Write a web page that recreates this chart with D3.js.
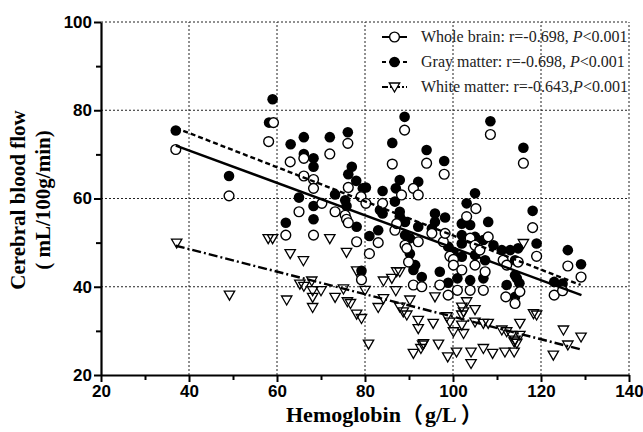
<!DOCTYPE html>
<html>
<head>
<meta charset="utf-8">
<script src="https://cdn.jsdelivr.net/npm/d3@7.9.0/dist/d3.min.js"></script>
<style>
  body { margin: 0; background: #fff; }
  .tick text { font-family: "Liberation Sans", Arial, sans-serif; font-weight: bold; font-size: 17px; fill: #000; }
  .title { font-family: "Liberation Serif", "Times New Roman", serif; font-weight: bold; font-size: 21px; fill: #000; }
  .cjk { font-family: "Noto Sans CJK SC", sans-serif; font-weight: bold; }
  .legend text { font-family: "Liberation Serif", "Times New Roman", serif; font-size: 16px; fill: #222; }
</style>
</head>
<body>
<svg id="chart" width="643" height="432"></svg>
<script>
// [hemoglobin g/L, CBF mL/100g/min]
const wholeBrain = [
  [37,71.1],[49.1,60.6],[58.1,72.9],[59.2,77.2],[62,51.7],[63,68.3],[65,57],[66.1,69.1],[66.1,65.1],
  [68.3,64.3],[68.3,62.3],[68.3,51.7],[70.2,58.9],[72,70.1],[73.2,57],[75.5,56.2],[75.8,55.3],[76.2,54.5],
  [76.1,72.5],[76.2,62.5],[78.1,50.2],[79.1,60.4],[79.2,41.6],[80.2,58.9],[81,47.5],[83,50],[84,58.9],
  [86.2,67.8],[86.8,52.8],[87.2,54.3],[88.3,60.8],[89.1,49.4],[89.5,48.7],[89.9,45.6],[91,62.3],[91,40.4],
  [92.1,60.8],[92.1,50.2],[92.9,40],[95.2,52.1],[97,40.4],[97.8,50.2],[98.2,52.1],[98.9,38.1],[99.3,46.9],
  [100.1,46.2],[100.1,44.9],[101,39.2],[102,43.8],[103.1,55.9],[103.9,51],[103.9,39.2],[105,49.4],[105,44.9],
  [105.2,57.7],[106.1,48.3],[106.9,39.2],[107.3,43.4],[108,51.3],[111.4,46],[112,37.7],[112.2,44.9],
  [114.1,36.2],[114.8,45.6],[115.2,38.9],[118.1,53.4],[119,46.9],[123,38.1],[124.9,39.1],[126.1,44.7],
  [129.1,42.2],
  [89,75.5],[94,68],[98,65.5],[108.5,74.5],[116,68]
];
const grayMatter = [
  [37,75.4],[49.1,65.1],[58.2,77.2],[59,82.5],[62,54.5],[63.1,72.3],[65,60.2],[66.1,73.9],[66.1,70.1],
  [68.3,69.1],[68.3,67.2],[68.3,58.3],[68.3,55.3],[72,73.9],[73.2,60.9],[75.5,59.6],[75.8,58.3],[76.1,75],
  [76.2,65.5],[77,67.2],[78,64],[78.1,53.6],[79.2,43.6],[79.5,62.3],[80.2,62.5],[81,51.5],[83,52.8],
  [83.4,57.4],[84,61.7],[84,56.6],[86.2,72.6],[86.8,59.3],[87,62.3],[87.9,64.2],[87.9,57],[87.9,55.9],
  [89.1,54.7],[89.1,51.7],[90.2,51],[90.2,47.5],[91,43.8],[91.4,44.9],[92.1,63.8],[92.1,53.6],[92.9,42.2],
  [95.2,53.2],[95.9,56.6],[95.9,54.7],[97,43.4],[98.2,55.7],[98.9,49.1],[98.9,40.9],[100.1,47.9],[101,41.9],
  [102,54.3],[102,51.7],[102,49.8],[102,46.8],[103.1,58.9],[103.9,54],[103.9,41.5],[105,61.2],[105,51.3],
  [105,47.2],[106.9,50.6],[106.9,41.9],[107.3,46],[108,54.7],[109.2,49.4],[111.1,48.3],[112.2,40.4],[113,48.3],
  [114.1,46],[114.1,42.6],[114.1,37.7],[114.5,41.9],[114.8,48.7],[115.1,40.8],[118.1,57.2],[119,49.8],
  [123,41.1],[124.9,40.7],[126.1,48.3],[129.1,45.1],
  [89,78.5],[94,71],[98,68.5],[108.5,77.5],[116,71.5]
];
const whiteMatter = [
  [37.2,49.9],[49.2,38.1],[58,50.9],[59,50.9],[62.2,37],[63,47.5],[65.2,40.6],[66,45.9],[66.1,40.1],
  [67.9,41.3],[68.1,39.1],[68.1,37.6],[68.1,35.3],[70,39.1],[72,50.9],[73.2,37.6],[75.1,39.5],[75.8,47.8],
  [76,36.6],[76.7,36.2],[78.1,43.6],[78.1,33.8],[79.2,32.8],[80,39.2],[80.8,27],[83,35.3],[84.2,41.3],
  [84.2,37.3],[86.1,41.9],[87,39.1],[87.2,43.4],[87.9,43.4],[87.9,35.4],[88.7,34.3],[89.5,33.6],[90.2,37],
  [91,24.9],[92.1,32.4],[92.1,30.5],[92.7,26],[93.1,26.8],[93.3,27.1],[95.5,31.7],[95.9,37.7],[96.7,27],
  [98.6,33.2],[98.8,24.1],[99.3,32],[100.1,29.8],[100.8,25.2],[102,35.4],[102,33.6],[102,31.3],[102.4,34.3],
  [102.4,29.4],[103.1,36.6],[104.1,25.2],[104.1,22.6],[105,34.8],[105,32],[106.9,31.7],[106.9,26],[108,31.7],
  [109,24.9],[111.1,30.2],[111.8,25.2],[112.2,29.8],[113.3,29],[113.9,25.2],[113.9,27.5],[114.1,27.9],
  [114.5,27.2],[115.2,29],[115.2,31.7],[116,49.8],[118.3,33.9],[119,33.6],[122.8,24.5],[125.1,30.2],
  [126.1,26.8],[129.1,28.6]
];

// fitted lines: [x0, y0], [x1, y1]
const wholeFit = [[37, 72.0], [129.2, 38.1]];
const grayFit  = [[37, 76.0], [129, 40.4]];
const whiteFit = [[37, 49.3], [129, 25.8]];

const xTicks = [20, 40, 60, 80, 100, 120, 140];
const xMinor = [30, 50, 70, 90, 110, 130];
const yTicks = [20, 40, 60, 80, 100];
const yMinor = [30, 50, 70, 90];

const legendLabels = [
  ['Whole brain: r=-0.698, ', '<0.001'],
  ['Gray matter: r=-0.698, ', '<0.001'],
  ['White matter: r=-0.643,', '<0.001']
];

const svg = d3.select('#chart');
const x = d3.scaleLinear().domain([20, 140]).range([101, 629]);
const y = d3.scaleLinear().domain([20, 100]).range([375, 22]);

// dotted grid
svg.append('g')
  .selectAll('line')
  .data(xTicks.slice(1))
  .join('line')
  .attr('x1', d => x(d)).attr('x2', d => x(d))
  .attr('y1', y(20)).attr('y2', y(100))
  .attr('stroke', '#222').attr('stroke-width', 1).attr('stroke-dasharray', '2,2');
svg.append('g')
  .selectAll('line')
  .data(yTicks.slice(1))
  .join('line')
  .attr('x1', x(20)).attr('x2', x(140))
  .attr('y1', d => y(d)).attr('y2', d => y(d))
  .attr('stroke', '#222').attr('stroke-width', 1).attr('stroke-dasharray', '2,2');

// axes
svg.append('g').attr('transform', `translate(0,${y(20)})`)
  .call(d3.axisBottom(x).tickValues(xTicks).tickSize(7).tickSizeOuter(0).tickPadding(3));
svg.append('g').attr('transform', `translate(0,${y(20)})`)
  .call(d3.axisBottom(x).tickValues(xMinor).tickSize(5).tickFormat(''))
  .select('.domain').remove();
svg.append('g').attr('transform', `translate(${x(20)},0)`)
  .call(d3.axisLeft(y).tickValues(yTicks).tickSize(7).tickSizeOuter(0).tickPadding(2));
svg.append('g').attr('transform', `translate(${x(20)},0)`)
  .call(d3.axisLeft(y).tickValues(yMinor).tickSize(5).tickFormat(''))
  .select('.domain').remove();
svg.selectAll('.domain').attr('stroke-width', 2.2);
svg.selectAll('.tick line').attr('stroke-width', 2);

// points
const tri = 'M-5.2,-4 L5.2,-4 L0,5 Z';
svg.append('g')
  .selectAll('path')
  .data(whiteMatter)
  .join('path')
  .attr('d', tri)
  .attr('transform', d => `translate(${x(d[0])},${y(d[1])})`)
  .attr('fill', 'none').attr('stroke', '#000').attr('stroke-width', 1.3);
svg.append('g')
  .selectAll('circle')
  .data(grayMatter)
  .join('circle')
  .attr('cx', d => x(d[0])).attr('cy', d => y(d[1])).attr('r', 5.3)
  .attr('fill', '#000');
svg.append('g')
  .selectAll('circle')
  .data(wholeBrain)
  .join('circle')
  .attr('cx', d => x(d[0])).attr('cy', d => y(d[1])).attr('r', 4.9)
  .attr('fill', '#fff').attr('stroke', '#000').attr('stroke-width', 1.4);

// regression lines
const line = d3.line().x(d => x(d[0])).y(d => y(d[1]));
svg.append('path').attr('d', line(wholeFit)).attr('fill', 'none')
  .attr('stroke', '#000').attr('stroke-width', 2.4);
svg.append('path').attr('d', line(grayFit)).attr('fill', 'none')
  .attr('stroke', '#000').attr('stroke-width', 2.4).attr('stroke-dasharray', '5,3');
svg.append('path').attr('d', line(whiteFit)).attr('fill', 'none')
  .attr('stroke', '#000').attr('stroke-width', 2.4).attr('stroke-dasharray', '9,3,2,3');

// legend, clipped at the right edge of the plot
svg.append('clipPath').attr('id', 'legclip')
  .append('rect').attr('x', 0).attr('y', 0).attr('width', 631).attr('height', 432);
const legend = svg.append('g').attr('class', 'legend').attr('clip-path', 'url(#legclip)');
const rowsY = [37, 62, 87];
const dashes = [null, '4,3', '6,2,2,2'];
legendLabels.forEach((lab, i) => {
  const g = legend.append('g').attr('transform', `translate(0,${rowsY[i]})`);
  g.append('line').attr('x1', 382).attr('x2', 407).attr('y1', 0).attr('y2', 0)
    .attr('stroke', '#000').attr('stroke-width', 2)
    .attr('stroke-dasharray', dashes[i]);
  if (i === 0) g.append('circle').attr('cx', 394.5).attr('r', 4.9).attr('fill', '#fff').attr('stroke', '#000').attr('stroke-width', 1.4);
  if (i === 1) g.append('circle').attr('cx', 394.5).attr('r', 5.3).attr('fill', '#000');
  if (i === 2) g.append('path').attr('d', tri).attr('transform', 'translate(394.5,0)').attr('fill', '#fff').attr('stroke', '#000').attr('stroke-width', 1.3);
  const t = g.append('text').attr('x', 421).attr('y', 5);
  t.append('tspan').text(lab[0]);
  t.append('tspan').attr('font-style', 'italic').text('P');
  t.append('tspan').text(lab[1]);
});

// axis titles
const xt = svg.append('text').attr('class', 'title').style('font-size', '22px')
  .attr('x', 286).attr('y', 422);
xt.append('tspan').text('Hemoglobin');
xt.append('tspan').attr('class', 'cjk').text('（');
xt.append('tspan').attr('dx', 2).text('g/L');
xt.append('tspan').attr('class', 'cjk').attr('dx', 4).text('）');
const yt = svg.append('text').attr('class', 'title')
  .attr('transform', 'translate(0,200) rotate(-90)').attr('text-anchor', 'middle');
yt.append('tspan').attr('x', 0).attr('y', 25).text('Cerebral blood flow');
yt.append('tspan').attr('x', 0).attr('y', 50).text('( mL/100g/min)');
</script>
</body>
</html>
